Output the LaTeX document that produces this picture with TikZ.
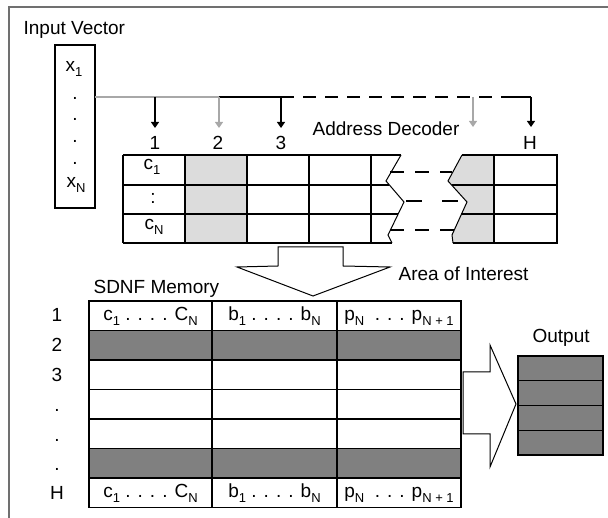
\documentclass[tikz,border=0pt]{standalone}
\usepackage{fontspec}
\setmainfont{Liberation Sans}
\usetikzlibrary{arrows.meta}
\definecolor{lgray}{HTML}{DCDCDC}
\definecolor{dgray}{HTML}{808080}
\definecolor{wgray}{HTML}{A8A8A8}
\definecolor{fgray}{HTML}{707070}
\newcommand\subs[1]{\raisebox{-5pt}{\fontsize{13}{13}\selectfont #1}}
\begin{document}
\begin{tikzpicture}[x=1pt,y=-1pt,line width=1.2pt,
  txt/.style={font=\fontsize{19}{22}\selectfont,inner sep=0pt},
  tipa/.style={-{Triangle[length=6pt,width=8pt]}},
  gline/.style={draw=wgray},
  dline/.style={dash pattern=on 13pt off 9pt}]
\useasboundingbox (0,0) rectangle (608,518);
% frame
\draw[fgray,line width=1.6pt] (608,7) -- (9,7) -- (9,518);
% input vector
\node[txt,anchor=base west] (title) at (23,35) {Input Vector};
\node[draw,inner sep=0pt,minimum width=40pt,minimum height=163pt] (inbox) at (75,126.5) {};
\node[txt,anchor=base] (x1) at (74,72) {x\subs{1}};
\node[txt,anchor=base] (d1) at (75,100) {.};
\node[txt,anchor=base] (d2) at (75,121) {.};
\node[txt,anchor=base] (d3) at (75,143) {.};
\node[txt,anchor=base] (d4) at (75,165) {.};
\node[txt,anchor=base] (xN) at (76,188) {x\subs{N}};
% address bus
\coordinate (b0) at (95,97);
\coordinate (b1) at (155,97);
\coordinate (b2) at (219,97);
\coordinate (b3) at (281,97);
\coordinate (bd) at (505,97);
\coordinate (bg) at (473,97);
\coordinate (bH) at (531,97);
\coordinate (t1) at (155,128);
\coordinate (t2) at (219,128);
\coordinate (t3) at (281,128);
\coordinate (tg) at (473,127);
\coordinate (tH) at (531,127);
\draw[gline] (b0) -- (b2);
\draw (b2) -- (b3);
\draw[dline] (b3) -- (bd);
\draw (bd) -- (bH);
\draw[tipa] (b1) -- (t1);
\draw[tipa,wgray] (b2) -- (t2);
\draw[tipa] (b3) -- (t3);
\draw[tipa,wgray] (bg) -- (tg);
\draw[tipa] (bH) -- (tH);
\node[txt,anchor=base] (n1) at (155,150) {1};
\node[txt,anchor=base] (n2) at (218,150) {2};
\node[txt,anchor=base] (n3) at (281,150) {3};
\node[txt,anchor=base] (nH) at (530,150) {H};
\node[txt,anchor=base west] (addr) at (312,136) {Address Decoder};
% decoder table
\fill[lgray] (185,155) rectangle (247,243);
\fill[lgray] (462,155) -- (494,155) -- (494,243) -- (453,243) -- (452,235) -- (467,202) -- (448,181) -- cycle;
\draw (123,155) -- (401,155);
\draw (123,243) -- (392,243);
\draw (123,185) -- (389,185);
\draw (123,214) -- (398,214);
\foreach \x in {123,185,247,309,371} \draw (\x,155) -- (\x,243);
\draw[line width=1pt] (401,155) -- (386,181) -- (404,202) -- (388,235) -- (392,243);
\draw (462,155) -- (557,155) -- (557,243) -- (453,243);
\draw[line width=1pt] (462,155) -- (448,181) -- (467,202) -- (452,235) -- (453,243);
\draw (452,185) -- (557,185);
\draw (461,214) -- (557,214);
\draw (494,155) -- (494,243);
\draw[dash pattern=on 14pt off 11pt] (390,172) -- (452,172);
\draw[dash pattern=on 16pt off 20pt] (406,201) -- (463,201);
\draw[dash pattern=on 14pt off 11pt] (390,230) -- (454,230);
\node[txt,anchor=base] (c1) at (152,170) {c\subs{1}};
\node[txt,anchor=base] (cc) at (153,204) {:};
\node[txt,anchor=base] (cN) at (154,230) {c\subs{N}};
% down arrow
\draw[fill=white,line width=1pt] (278,247) -- (343,247) -- (343,266) -- (390,267) -- (313,296) -- (237,267) -- (278,266) -- cycle;
\node[txt,anchor=base west] (aoi) at (398,281) {Area of Interest};
% memory
\node[txt,anchor=base west] (sdnf) at (93,294) {SDNF Memory};
\fill[dgray] (89,330.5) rectangle (461,360);
\fill[dgray] (89,448.5) rectangle (461,478);
\draw (89,301) rectangle (461,507.5);
\foreach \y in {330.5,360,389.5,419,448.5,478} \draw (89,\y) -- (461,\y);
\draw (212,301) -- (212,507.5);
\draw (337,301) -- (337,507.5);
\node[txt,anchor=base] (r1) at (57,322) {1};
\node[txt,anchor=base] (r2) at (57,352) {2};
\node[txt,anchor=base] (r3) at (57,381.5) {3};
\node[txt,anchor=base] (r4) at (57,412) {.};
\node[txt,anchor=base] (r5) at (57,441.5) {.};
\node[txt,anchor=base] (r6) at (57,471) {.};
\node[txt,anchor=base] (rH) at (57,500) {H};
\node[txt,anchor=base] (m11) at (150.5,320.5) {c\subs{1} . . . . C\subs{N}};
\node[txt,anchor=base] (m12) at (274.5,320.5) {b\subs{1} . . . . b\subs{N}};
\node[txt,anchor=base] (m13) at (399,320.5) {p\subs{N} \ . . . p\subs{N + 1}};
\node[txt,anchor=base] (m71) at (150.5,497.5) {c\subs{1} . . . . C\subs{N}};
\node[txt,anchor=base] (m72) at (274.5,497.5) {b\subs{1} . . . . b\subs{N}};
\node[txt,anchor=base] (m73) at (399,497.5) {p\subs{N} \ . . . p\subs{N + 1}};
% right arrow
\draw[fill=white,line width=1pt] (463,372) -- (490,372) -- (490,345) -- (516,404) -- (490,467) -- (490,434) -- (463,434) -- cycle;
% output
\node[txt,anchor=base west] (out) at (532,343) {Output};
\draw[fill=dgray] (518,356) rectangle (603,455);
\foreach \y in {380.75,405.5,430.25} \draw (518,\y) -- (603,\y);
\end{tikzpicture}
\end{document}
